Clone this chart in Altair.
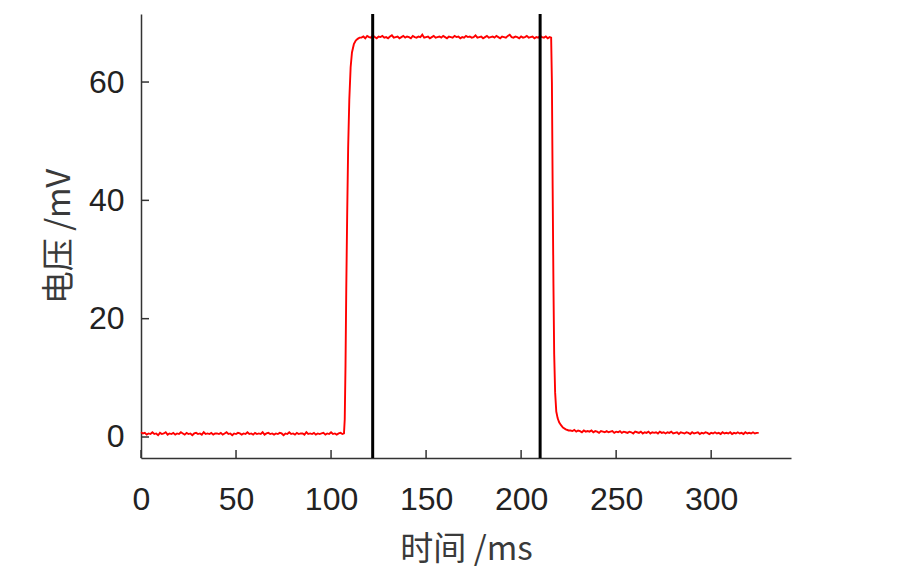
import altair as alt
import pandas as pd

# ---- data ----
baseline_t = list(range(0, 107))
baseline_v = [0.8,0.6,0.7,0.4,0.6,0.5,0.8,0.5,0.6,0.3,0.7,0.5,0.6,0.8,0.4,0.6,0.5,0.7,0.4,0.6,
              0.5,0.8,0.6,0.4,0.7,0.5,0.6,0.3,0.6,0.7,0.5,0.6,0.4,0.8,0.5,0.6,0.5,0.7,0.4,0.6,
              0.6,0.5,0.7,0.4,0.6,0.8,0.5,0.6,0.3,0.6,0.5,0.7,0.6,0.4,0.6,0.5,0.8,0.5,0.6,0.4,
              0.7,0.5,0.6,0.5,0.8,0.4,0.6,0.7,0.5,0.6,0.4,0.6,0.5,0.7,0.6,0.3,0.6,0.5,0.8,0.5,
              0.6,0.4,0.7,0.5,0.6,0.6,0.4,0.8,0.5,0.6,0.5,0.7,0.4,0.6,0.5,0.6,0.7,0.4,0.6,0.5,
              0.8,0.5,0.6,0.4,0.6,0.7,0.5]

rise_t = [106.8,107.2,107.6,108.0,108.5,109.0,109.6,110.3,111.0,112.0,113.0,114.0,115.0]
rise_v = [0.6,3,12,25,38,49,57,62.5,65,66.4,67.0,67.3,67.5]

plateau_t = list(range(116, 216))
plateau_v = [67.5,67.7,67.4,67.8,67.6,67.5,67.9,67.6,67.4,67.7,
             67.6,67.8,67.5,67.6,67.4,67.7,67.9,67.5,67.6,67.7,
             67.4,67.6,67.8,67.5,67.7,67.6,67.4,67.8,67.6,67.5,
             67.7,67.6,68.0,67.5,67.6,67.7,67.4,67.6,67.8,67.5,
             67.6,67.7,67.5,67.8,67.6,67.4,67.7,67.6,67.5,67.8,
             67.6,67.7,67.4,67.6,67.5,67.8,67.6,67.7,67.5,67.6,
             67.9,67.5,67.6,67.7,67.4,67.6,67.8,67.5,67.6,67.7,
             67.5,67.8,67.6,67.4,67.7,67.6,67.5,67.8,68.0,67.6,
             67.5,67.7,67.6,67.4,67.7,67.5,67.6,67.8,67.5,67.6,
             67.7,67.4,67.6,67.5,67.8,67.6,67.5,67.7,67.4,67.6]

fall_t = [215.8,216.2,216.6,217.0,217.4,217.9,218.5,219.2,220.0,221.0,222.0,223.5,225.0]
fall_v = [67.5,60,42,26,14,7.5,4.3,3.2,2.5,2.0,1.6,1.3,1.1]

tail_t = list(range(226, 326))
tail_v = [1.1,1.0,1.2,0.9,1.1,1.0,0.8,1.1,0.9,1.0,
          0.9,1.1,0.8,1.0,0.9,0.7,1.0,0.9,0.8,1.0,
          0.8,0.9,1.0,0.7,0.9,0.8,1.0,0.7,0.9,0.8,
          0.7,0.9,0.8,0.6,0.9,0.8,0.7,0.9,0.6,0.8,
          0.7,0.9,0.6,0.8,0.7,0.8,0.6,0.9,0.7,0.8,
          0.6,0.8,0.7,0.9,0.6,0.7,0.8,0.5,0.8,0.7,
          0.6,0.8,0.7,0.5,0.8,0.6,0.7,0.8,0.5,0.7,
          0.6,0.8,0.7,0.5,0.7,0.6,0.8,0.6,0.7,0.5,
          0.8,0.6,0.7,0.6,0.8,0.5,0.7,0.6,0.8,0.6,
          0.7,0.5,0.8,0.6,0.7,0.6,0.8,0.6,0.7,0.7]

marker_t = [121.9, 210.0]
x_ticks = [0, 50, 100, 150, 200, 250, 300]
y_ticks = [0, 20, 40, 60]
x_domain = [0, 342]
y_domain = [-3.55, 71.5]

# ---- build tables ----
t_all = baseline_t + rise_t + plateau_t + fall_t + tail_t
v_all = baseline_v + rise_v + plateau_v + fall_v + tail_v
signal = pd.DataFrame({"t": t_all, "v": v_all})
markers = pd.DataFrame({"t": marker_t})
xt = pd.DataFrame({"t": x_ticks})
yt = pd.DataFrame({"v": y_ticks})

W, H = 650, 444
AX = "#333333"
LABEL_FONT = "Liberation Sans"

xscale = alt.Scale(domain=x_domain, nice=False, zero=False)
yscale = alt.Scale(domain=y_domain, nice=False, zero=False)

xaxis = alt.Axis(values=x_ticks, title="时间 /ms", grid=False, ticks=False, tickSize=0,
                 labelFontSize=32, labelFont=LABEL_FONT, labelColor="#222222", labelPadding=26,
                 labelFlush=False, labelOverlap=False,
                 domainColor=AX, domainWidth=1.5,
                 titleFont="Noto Sans CJK SC", titleFontSize=33, titleFontWeight="normal",
                 titleColor="#3a3a3a", titleBaseline="middle", titleY=91)
yaxis = alt.Axis(values=y_ticks, title="电压 /mV", grid=False, ticks=False, tickSize=0,
                 labelFontSize=32, labelFont=LABEL_FONT, labelColor="#222222", labelPadding=17,
                 labelFlush=False, labelOverlap=False,
                 domainColor=AX, domainWidth=1.5,
                 titleFont="Noto Sans CJK SC", titleFontSize=33, titleFontWeight="normal",
                 titleColor="#3a3a3a", titleBaseline="middle", titleX=-82, titleAngle=-90)

line = alt.Chart(signal).mark_line(color="#ff0000", strokeWidth=1.9).encode(
    x=alt.X("t:Q", scale=xscale, axis=xaxis),
    y=alt.Y("v:Q", scale=yscale, axis=yaxis),
)

vlines = alt.Chart(markers).mark_rule(color="#000000", strokeWidth=3).encode(
    x=alt.X("t:Q", scale=xscale),
)

xticks = alt.Chart(xt).mark_rule(color=AX, strokeWidth=1.5).encode(
    x=alt.X("t:Q", scale=xscale),
    y=alt.value(H),
    y2=alt.value(H - 8),
)

yticks = alt.Chart(yt).mark_rule(color=AX, strokeWidth=1.5).encode(
    y=alt.Y("v:Q", scale=yscale),
    x=alt.value(0),
    x2=alt.value(8),
)

chart = alt.layer(line, vlines, xticks, yticks).properties(
    width=W, height=H,
    background="white",
    autosize=alt.AutoSizeParams(type="none"),
    padding={"left": 133, "top": 6, "right": 104, "bottom": 116},
).configure_view(strokeWidth=0, stroke="transparent")

chart.save("out.html", embed_options={"renderer": "svg", "actions": False})
